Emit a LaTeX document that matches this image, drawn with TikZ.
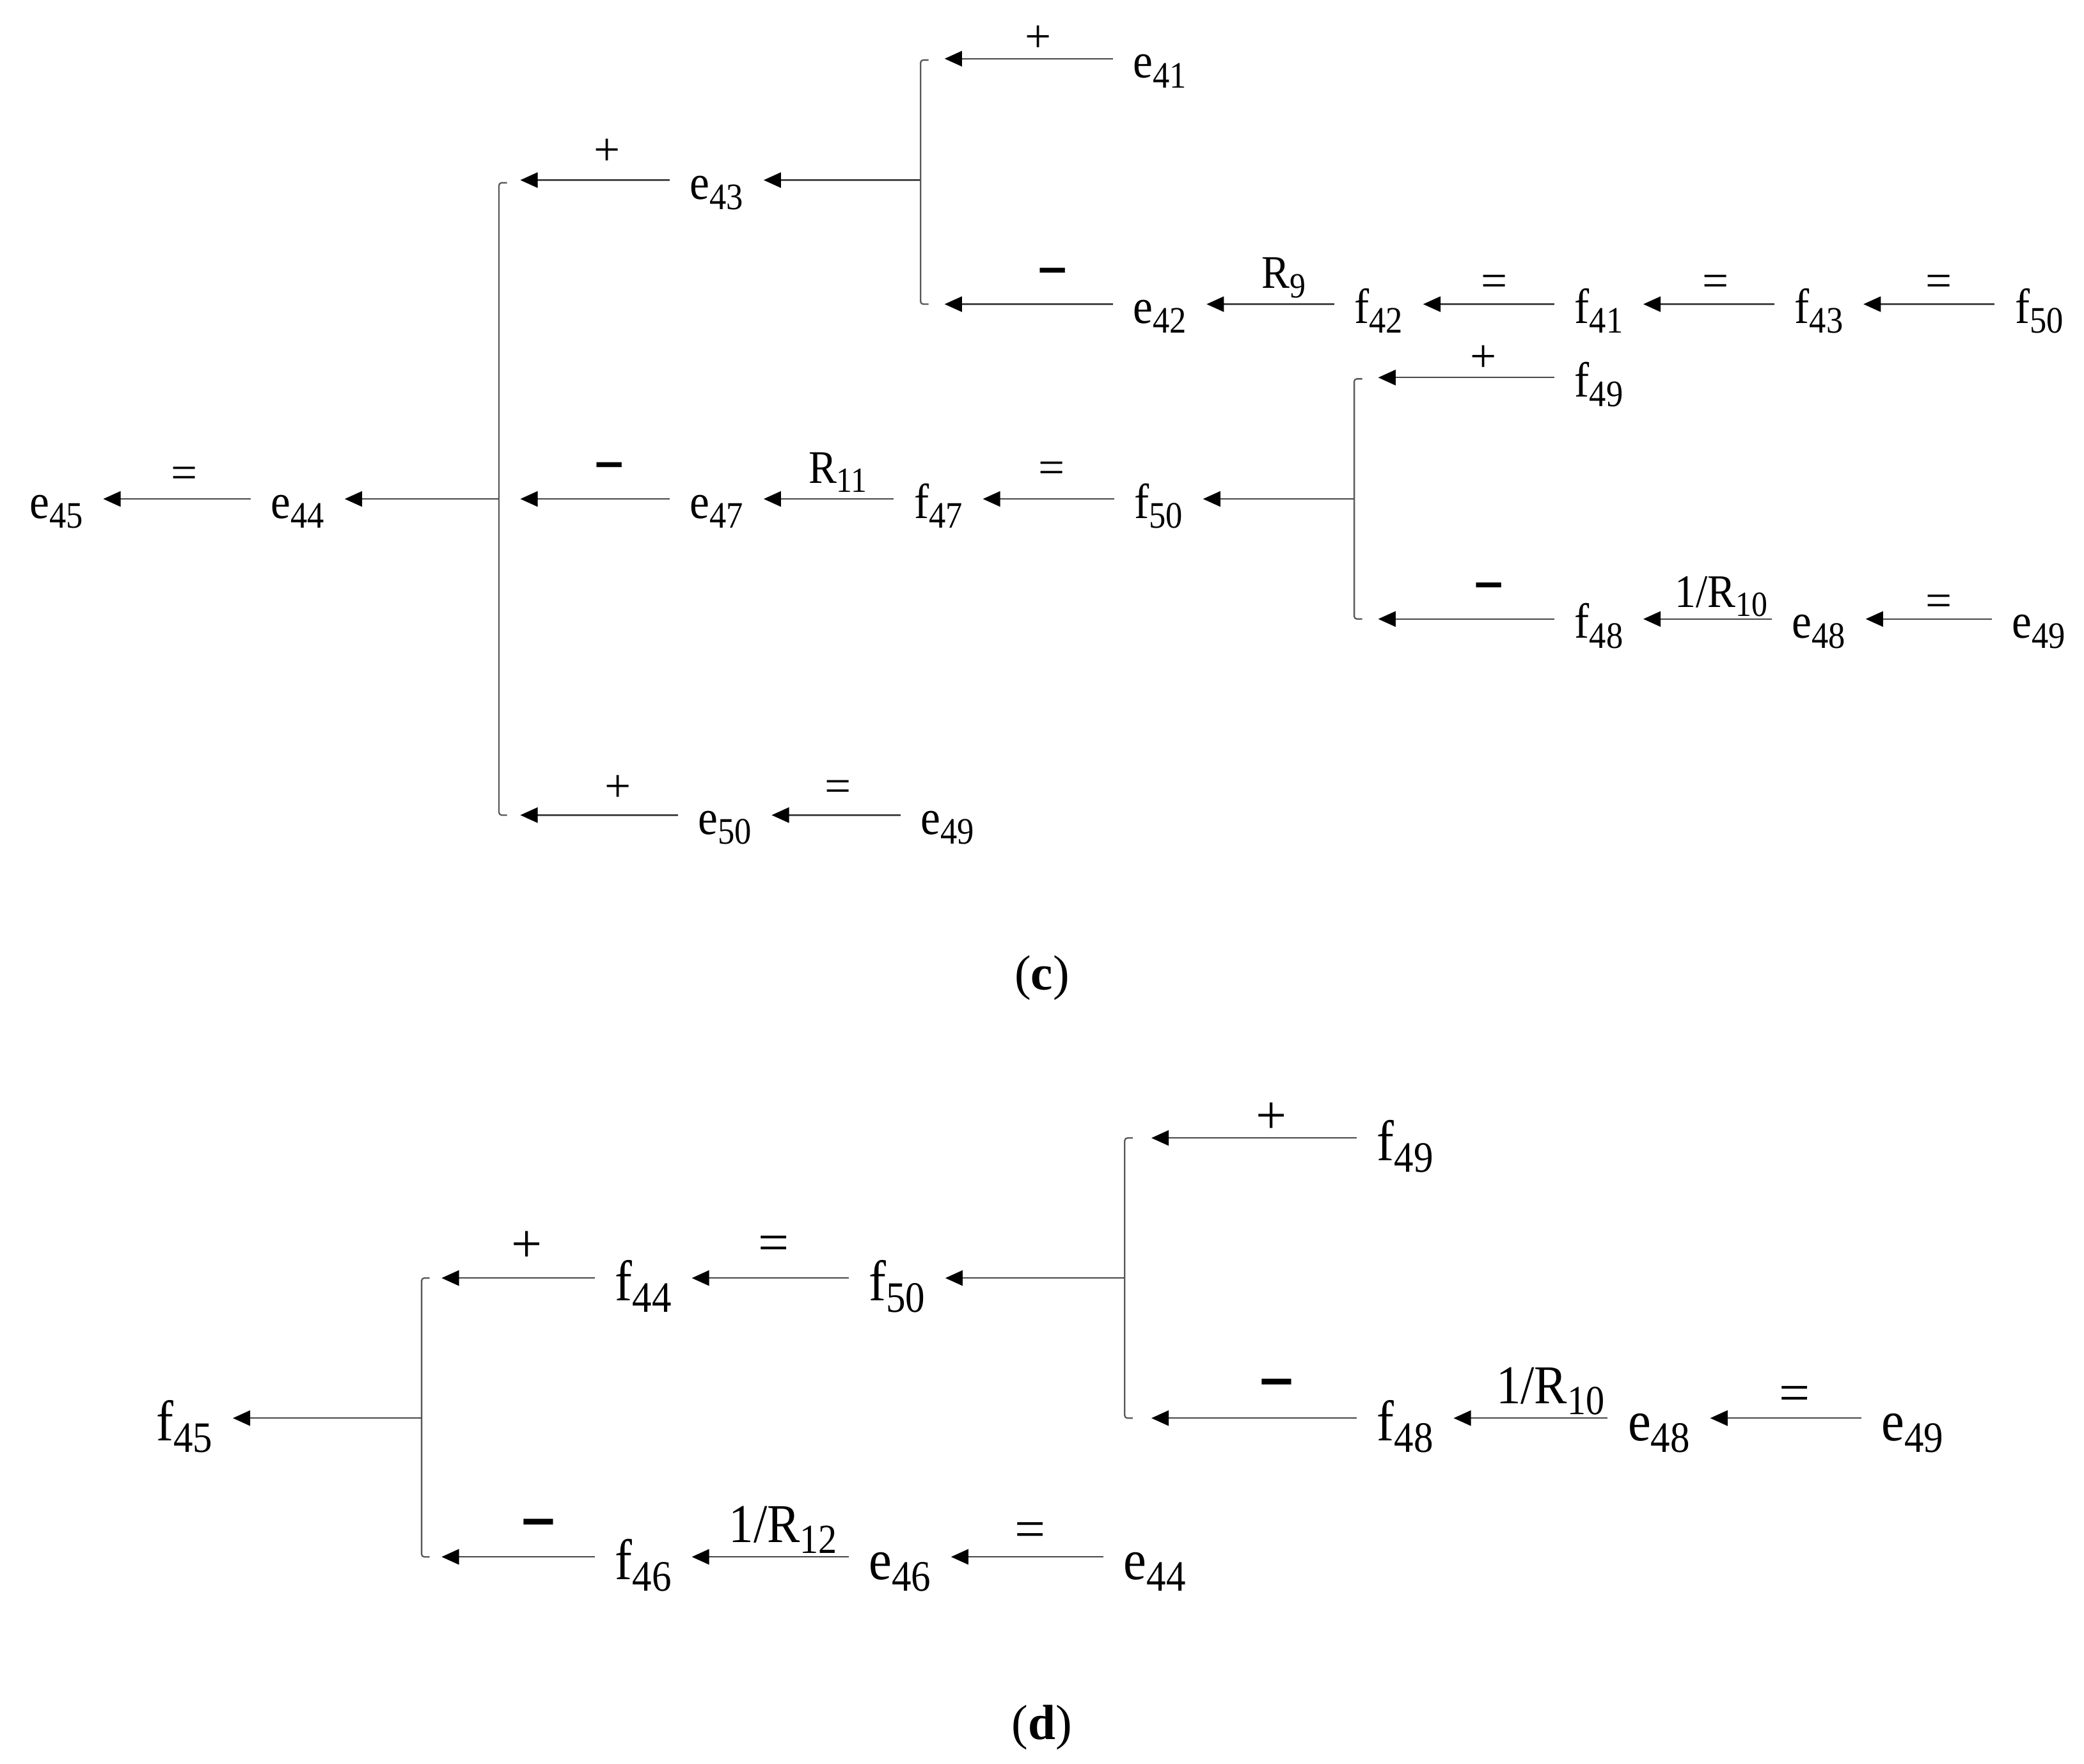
\documentclass[tikz,border=0pt]{standalone}
\usepackage{fontspec}
\setmainfont{Liberation Serif}
\usepackage{graphicx}
\usetikzlibrary{arrows.meta}
\def\subsz{25}
\newcommand\subx[1]{\raisebox{-0.2em}{\fontsize{\subsz}{\subsz}\selectfont #1}}
\newcommand\vv[2]{\scalebox{0.9}[1]{#1\subx{#2}}}
\newcommand\mn{\scalebox{1.05}[1.5]{\textbf{–}}}
\tikzset{
  cvar/.style={font=\fontsize{37}{40}\selectfont\def\subsz{28}, inner xsep=15pt, inner ysep=0pt,
    text height=38pt, text depth=9.25pt, anchor=west},
  dvar/.style={font=\fontsize{43}{46}\selectfont\def\subsz{32.5}, inner xsep=15pt, inner ysep=0pt,
    text height=44.3pt, text depth=10.75pt, anchor=west},
  clbl/.style={font=\fontsize{35}{38}\selectfont\def\subsz{26.5}, inner sep=0pt, anchor=base},
  dlbl/.style={font=\fontsize{41}{44}\selectfont\def\subsz{31}, inner sep=0pt, anchor=base},
  panelcap/.style={font=\fontsize{37}{40}\selectfont, inner sep=0pt},
  arr/.style={draw=black!72, line width=1.1pt, -{Triangle[length=13pt,width=11.5pt,fill=black,color=black]}},
  brk/.style={draw=black!65, line width=1.1pt, rounded corners=2pt},
}
\begin{document}
\begin{tikzpicture}[x=1pt,y=-1pt]
\fill[white] (0,0) rectangle (1562,1322);
\useasboundingbox (0,0) rectangle (1562,1322);

% ---------------- panel (c) ----------------
\node[cvar] (ce41) at (834,44) {\vv{e}{41}};
\node[cvar] (ce43) at (502,135) {\vv{e}{43}};
\node[cvar] (ce42) at (834,228) {\vv{e}{42}};
\node[cvar] (cf42) at (1000,228) {\vv{f}{42}};
\node[cvar] (cf41) at (1165,228) {\vv{f}{41}};
\node[cvar] (cf43) at (1330,228) {\vv{f}{43}};
\node[cvar] (cf50a) at (1495,228) {\vv{f}{50}};
\node[cvar] (cf49) at (1165,283) {\vv{f}{49}};
\node[cvar] (ce45) at (7,374) {\vv{e}{45}};
\node[cvar] (ce44) at (188,374) {\vv{e}{44}};
\node[cvar] (ce47) at (502,374) {\vv{e}{47}};
\node[cvar] (cf47) at (670,374) {\vv{f}{47}};
\node[cvar] (cf50) at (835,374) {\vv{f}{50}};
\node[cvar] (cf48) at (1165,464) {\vv{f}{48}};
\node[cvar] (ce48) at (1328,464) {\vv{e}{48}};
\node[cvar] (ce49) at (1493,464) {\vv{e}{49}};
\node[cvar] (ce50) at (508,611) {\vv{e}{50}};
\node[cvar] (ce49b) at (675,611) {\vv{e}{49}};

% brackets (c)
\draw[brk] (380,137) -- (374,137) -- (374,611) -- (380,611);
\draw[brk] (696,45) -- (690,45) -- (690,228) -- (696,228);
\draw[brk] (1021,284) -- (1015,284) -- (1015,464) -- (1021,464);
\coordinate (cj1) at (374,374);
\coordinate (cj2) at (690,135);
\coordinate (cj3) at (1015,374);
\coordinate (ct1a) at (390,135);
\coordinate (ct1b) at (390,374);
\coordinate (ct1c) at (390,611);
\coordinate (ct2a) at (708,44);
\coordinate (ct2b) at (708,228);
\coordinate (ct3a) at (1033,283);
\coordinate (ct3b) at (1033,464);

% connectors (c)
\draw[arr] (ce44.west) -- (ce45.east);
\draw[arr] (cj1) -- (ce44.east);
\draw[arr] (ce43.west) -- (ct1a);
\draw[arr] (ce47.west) -- (ct1b);
\draw[arr] (ce50.west) -- (ct1c);
\draw[arr] (cj2) -- (ce43.east);
\draw[arr] (ce41.west) -- (ct2a);
\draw[arr] (ce42.west) -- (ct2b);
\draw[arr] (cf42.west) -- (ce42.east);
\draw[arr] (cf41.west) -- (cf42.east);
\draw[arr] (cf43.west) -- (cf41.east);
\draw[arr] (cf50a.west) -- (cf43.east);
\draw[arr] (cf47.west) -- (ce47.east);
\draw[arr] (cf50.west) -- (cf47.east);
\draw[arr] (cj3) -- (cf50.east);
\draw[arr] (cf49.west) -- (ct3a);
\draw[arr] (cf48.west) -- (ct3b);
\draw[arr] (ce48.west) -- (cf48.east);
\draw[arr] (ce49.west) -- (ce48.east);
\draw[arr] (ce49b.west) -- (ce50.east);

% labels (c)
\node[clbl] (cl1) at (778,39) {+};
\node[clbl] (cl2) at (455,124) {+};
\node[clbl] (cl3) at (789,215) {\mn};
\node[clbl] (cl4) at (962,216) {\vv{R}{9}};
\node[clbl] (cl5) at (1120,222) {=};
\node[clbl] (cl6) at (1286,222) {=};
\node[clbl] (cl7) at (1453,222) {=};
\node[clbl] (cl8) at (1112,279) {+};
\node[clbl] (cl9) at (138,366) {=};
\node[clbl] (cl10) at (457,361) {\mn};
\node[clbl] (cl11) at (628,362) {\vv{R}{11}};
\node[clbl] (cl12) at (788,362) {=};
\node[clbl] (cl13) at (1116,451) {\mn};
\node[clbl] (cl14) at (1290,455) {\vv{1/R}{10}};
\node[clbl] (cl15) at (1453,462) {=};
\node[clbl] (cl16) at (463,601) {+};
\node[clbl] (cl17) at (628,601) {=};

\node[panelcap] (capc) at (781,733) {(\textbf{c})};

% ---------------- panel (d) ----------------
\node[dvar] (df49) at (1017,853) {\vv{f}{49}};
\node[dvar] (df44) at (446,958) {\vv{f}{44}};
\node[dvar] (df50) at (636,958) {\vv{f}{50}};
\node[dvar] (df45) at (102,1063) {\vv{f}{45}};
\node[dvar] (df48) at (1017,1063) {\vv{f}{48}};
\node[dvar] (de48) at (1205,1063) {\vv{e}{48}};
\node[dvar] (de49) at (1395,1063) {\vv{e}{49}};
\node[dvar] (df46) at (446,1167) {\vv{f}{46}};
\node[dvar] (de46) at (636,1167) {\vv{e}{46}};
\node[dvar] (de44) at (827,1167) {\vv{e}{44}};

\draw[brk] (322,958) -- (316,958) -- (316,1167) -- (322,1167);
\draw[brk] (849,853) -- (843,853) -- (843,1063) -- (849,1063);
\coordinate (dj4) at (316,1063);
\coordinate (dj5) at (843,958);
\coordinate (dt4a) at (331,958);
\coordinate (dt4b) at (331,1167);
\coordinate (dt5a) at (863,853);
\coordinate (dt5b) at (863,1063);

\draw[arr] (dj4) -- (df45.east);
\draw[arr] (df44.west) -- (dt4a);
\draw[arr] (df46.west) -- (dt4b);
\draw[arr] (df50.west) -- (df44.east);
\draw[arr] (dj5) -- (df50.east);
\draw[arr] (df49.west) -- (dt5a);
\draw[arr] (df48.west) -- (dt5b);
\draw[arr] (de48.west) -- (df48.east);
\draw[arr] (de49.west) -- (de48.east);
\draw[arr] (de46.west) -- (df46.east);
\draw[arr] (de44.west) -- (de46.east);

\node[dlbl] (dl1) at (953,850) {+};
\node[dlbl] (dl2) at (395,946) {+};
\node[dlbl] (dl3) at (580,945) {=};
\node[dlbl] (dl4) at (957,1050) {\mn};
\node[dlbl] (dl5) at (1162,1052) {\vv{1/R}{10}};
\node[dlbl] (dl6) at (1345,1058) {=};
\node[dlbl] (dl7) at (404,1155) {\mn};
\node[dlbl] (dl8) at (587,1156) {\vv{1/R}{12}};
\node[dlbl] (dl9) at (772,1160) {=};

\node[panelcap] (capd) at (781,1295) {(\textbf{d})};
\end{tikzpicture}
\end{document}
